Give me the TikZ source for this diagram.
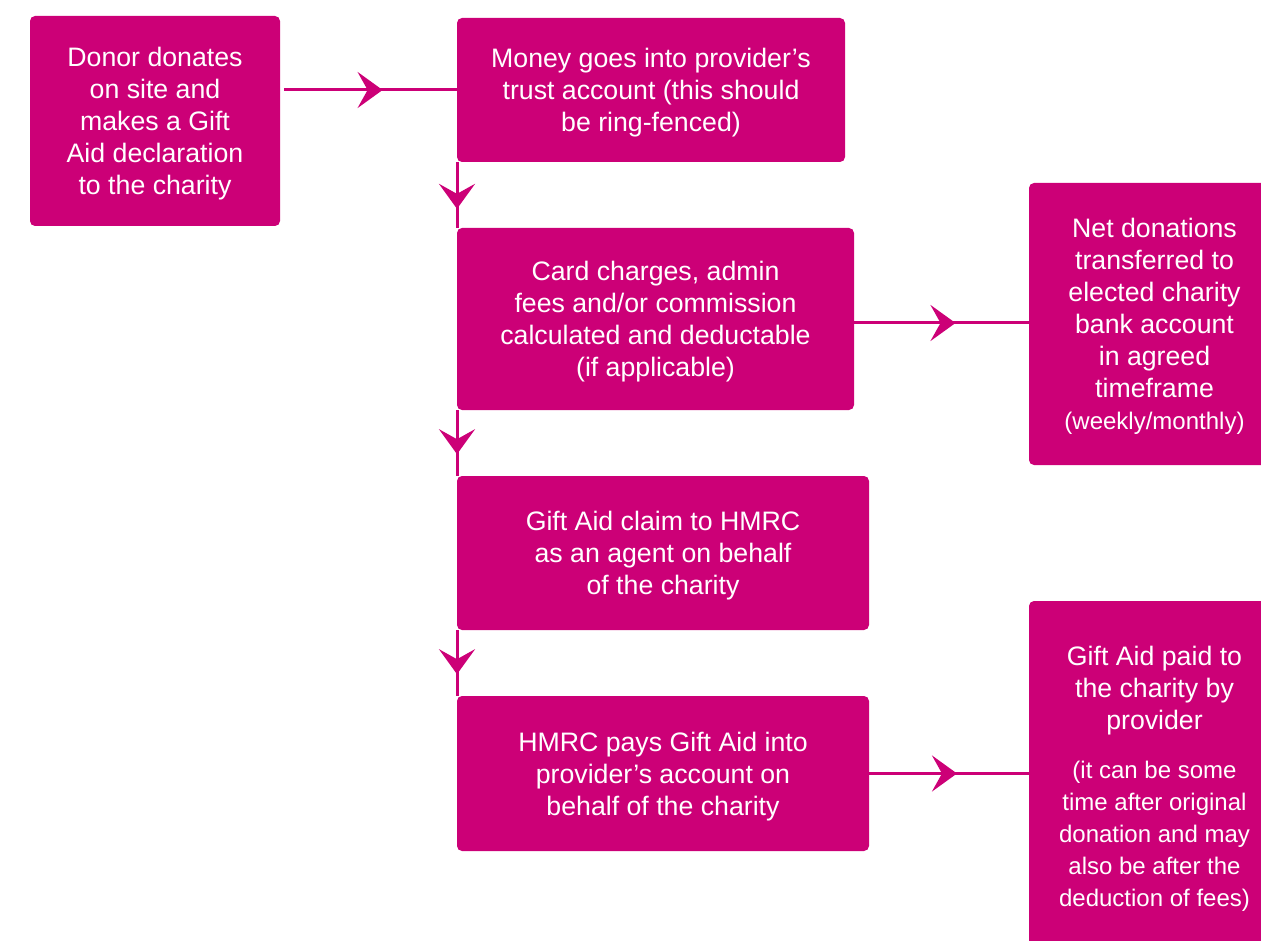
\documentclass[tikz,border=0pt]{standalone}
\usepackage{fontspec}
\setmainfont{Liberation Sans}
\usetikzlibrary{arrows.meta,decorations.markings}
\definecolor{giftpink}{RGB}{204,0,119}
\begin{document}
\begin{tikzpicture}[x=1pt, y=-1pt, every node/.style={inner sep=0pt, outer sep=0pt, align=center, text=white, text depth=0pt, font=\fontsize{26.7pt}{32pt}\selectfont}, stepbox/.style={fill=giftpink, rounded corners=5pt}, flow/.style={draw=giftpink, line width=3pt, postaction={decorate}, decoration={markings, mark=at position #1 with {\arrow[giftpink]{Stealth[length=25pt, width=36pt, inset=10pt]}}}}]
        \useasboundingbox (0, 0) rectangle (1261, 941);
        \node[stepbox, minimum width=250pt, minimum height=210pt] (donor) at (155, 121) {Donor donates\\on site and\\makes a Gift\\Aid declaration\\to the charity};
        \node[stepbox, minimum width=388pt, minimum height=144pt] (trust) at (651, 90) {Money goes into provider’s\\trust account (this should\\be ring-fenced)};
        \node[stepbox, minimum width=397pt, minimum height=182pt] (fees) at (655.5, 319) {Card charges, admin\\fees and/or commission\\calculated and deductable\\(if applicable)};
        \node[stepbox, minimum width=251pt, minimum height=282pt] (net) at (1154.5, 324) {Net donations\\transferred to\\elected charity\\bank account\\in agreed\\timeframe\\{\fontsize{24pt}{32pt}\selectfont(weekly/monthly)}};
        \node[stepbox, minimum width=412pt, minimum height=154pt] (claim) at (663, 553) {Gift Aid claim to HMRC\\as an agent on behalf\\of the charity};
        \node[stepbox, minimum width=412pt, minimum height=155pt] (hmrc) at (663, 773.5) {HMRC pays Gift Aid into\\provider’s account on\\behalf of the charity};
        \node[stepbox, minimum width=251pt, minimum height=350pt] (paid) at (1154.5, 776) {Gift Aid paid to\\the charity by\\provider\\[17pt]{\fontsize{24pt}{31.8pt}\selectfont(it can be some}\\{\fontsize{24pt}{31.8pt}\selectfont time after original}\\{\fontsize{24pt}{31.8pt}\selectfont donation and may}\\{\fontsize{24pt}{31.8pt}\selectfont also be after the}\\{\fontsize{24pt}{31.8pt}\selectfont deduction of fees)}};
        
        \draw[flow=0.57] ([xshift=4pt]donor.east |- trust.west) -- (trust.west);
        \draw[flow=0.71] (trust.south west) -- (fees.north west);
        \draw[flow=0.67] (fees.south west) -- (claim.north west);
        \draw[flow=0.67] (claim.south west) -- (hmrc.north west);
        \draw[flow=0.58] ([yshift=-4pt]fees.east) -- ([yshift=-4pt]fees.east -| net.west);
        \draw[flow=0.55] (hmrc.east) -- (hmrc.east -| paid.west);
    \end{tikzpicture}
\end{document}
